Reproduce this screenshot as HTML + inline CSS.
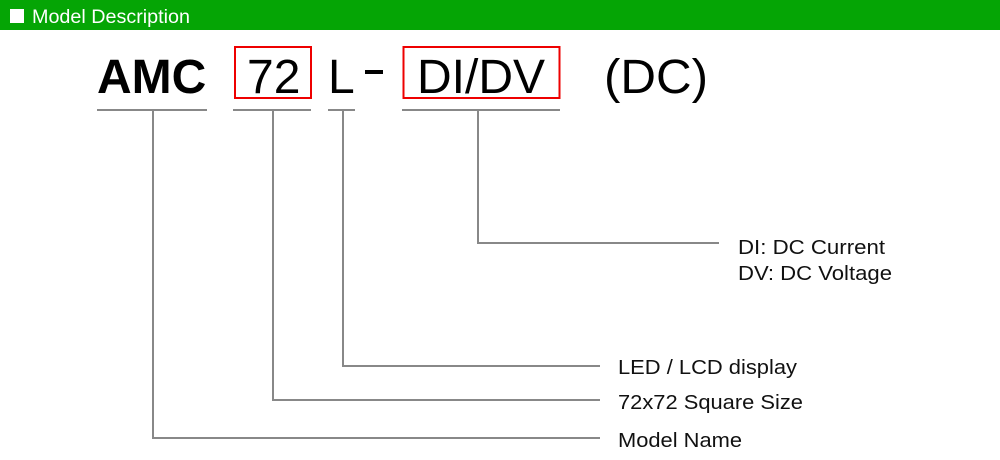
<!DOCTYPE html>
<html><head><style>
body{margin:0;width:1000px;height:460px;background:#fff;overflow:hidden}
svg{display:block}
text{font-family:"Liberation Sans",Arial,sans-serif}
</style></head><body>
<svg width="1000" height="460" viewBox="0 0 1000 460">
<rect x="0" y="0" width="1000" height="30" fill="#05a505"/>
<rect x="10" y="9" width="14" height="14" fill="#fff"/>
<text x="32" y="23" font-size="19" fill="#fff" textLength="158" lengthAdjust="spacingAndGlyphs">Model Description</text>
<g font-size="48" fill="#000">
<text x="97" y="93" font-weight="bold">AMC</text>
<text x="247" y="93">72</text>
<text x="328" y="93">L</text>
<rect x="365" y="70" width="18" height="4" fill="#000"/>
<text x="417" y="93">DI/DV</text>
<text x="604" y="93" textLength="104" lengthAdjust="spacingAndGlyphs">(DC)</text>
</g>
<rect x="235" y="47" width="76" height="51" fill="none" stroke="#e00" stroke-width="2"/>
<rect x="403.5" y="47" width="156" height="51" fill="none" stroke="#e00" stroke-width="2"/>
<g stroke="#888" stroke-width="2" fill="none">
<line x1="97" y1="110" x2="207" y2="110"/>
<line x1="233" y1="110" x2="311" y2="110"/>
<line x1="328" y1="110" x2="355" y2="110"/>
<line x1="402" y1="110" x2="560" y2="110"/>
<polyline points="153,110 153,438 600,438"/>
<polyline points="273,110 273,400 600,400"/>
<polyline points="343,110 343,366 600,366"/>
<polyline points="478,110 478,243 719,243"/>
</g>
<g font-size="20" fill="#111">
<text x="738" y="254" textLength="147" lengthAdjust="spacingAndGlyphs">DI: DC Current</text>
<text x="738" y="280" textLength="154" lengthAdjust="spacingAndGlyphs">DV: DC Voltage</text>
<text x="618" y="374" textLength="179" lengthAdjust="spacingAndGlyphs">LED / LCD display</text>
<text x="618" y="409" textLength="185" lengthAdjust="spacingAndGlyphs">72x72 Square Size</text>
<text x="618" y="447" textLength="124" lengthAdjust="spacingAndGlyphs">Model Name</text>
</g>
</svg>
</body></html>
